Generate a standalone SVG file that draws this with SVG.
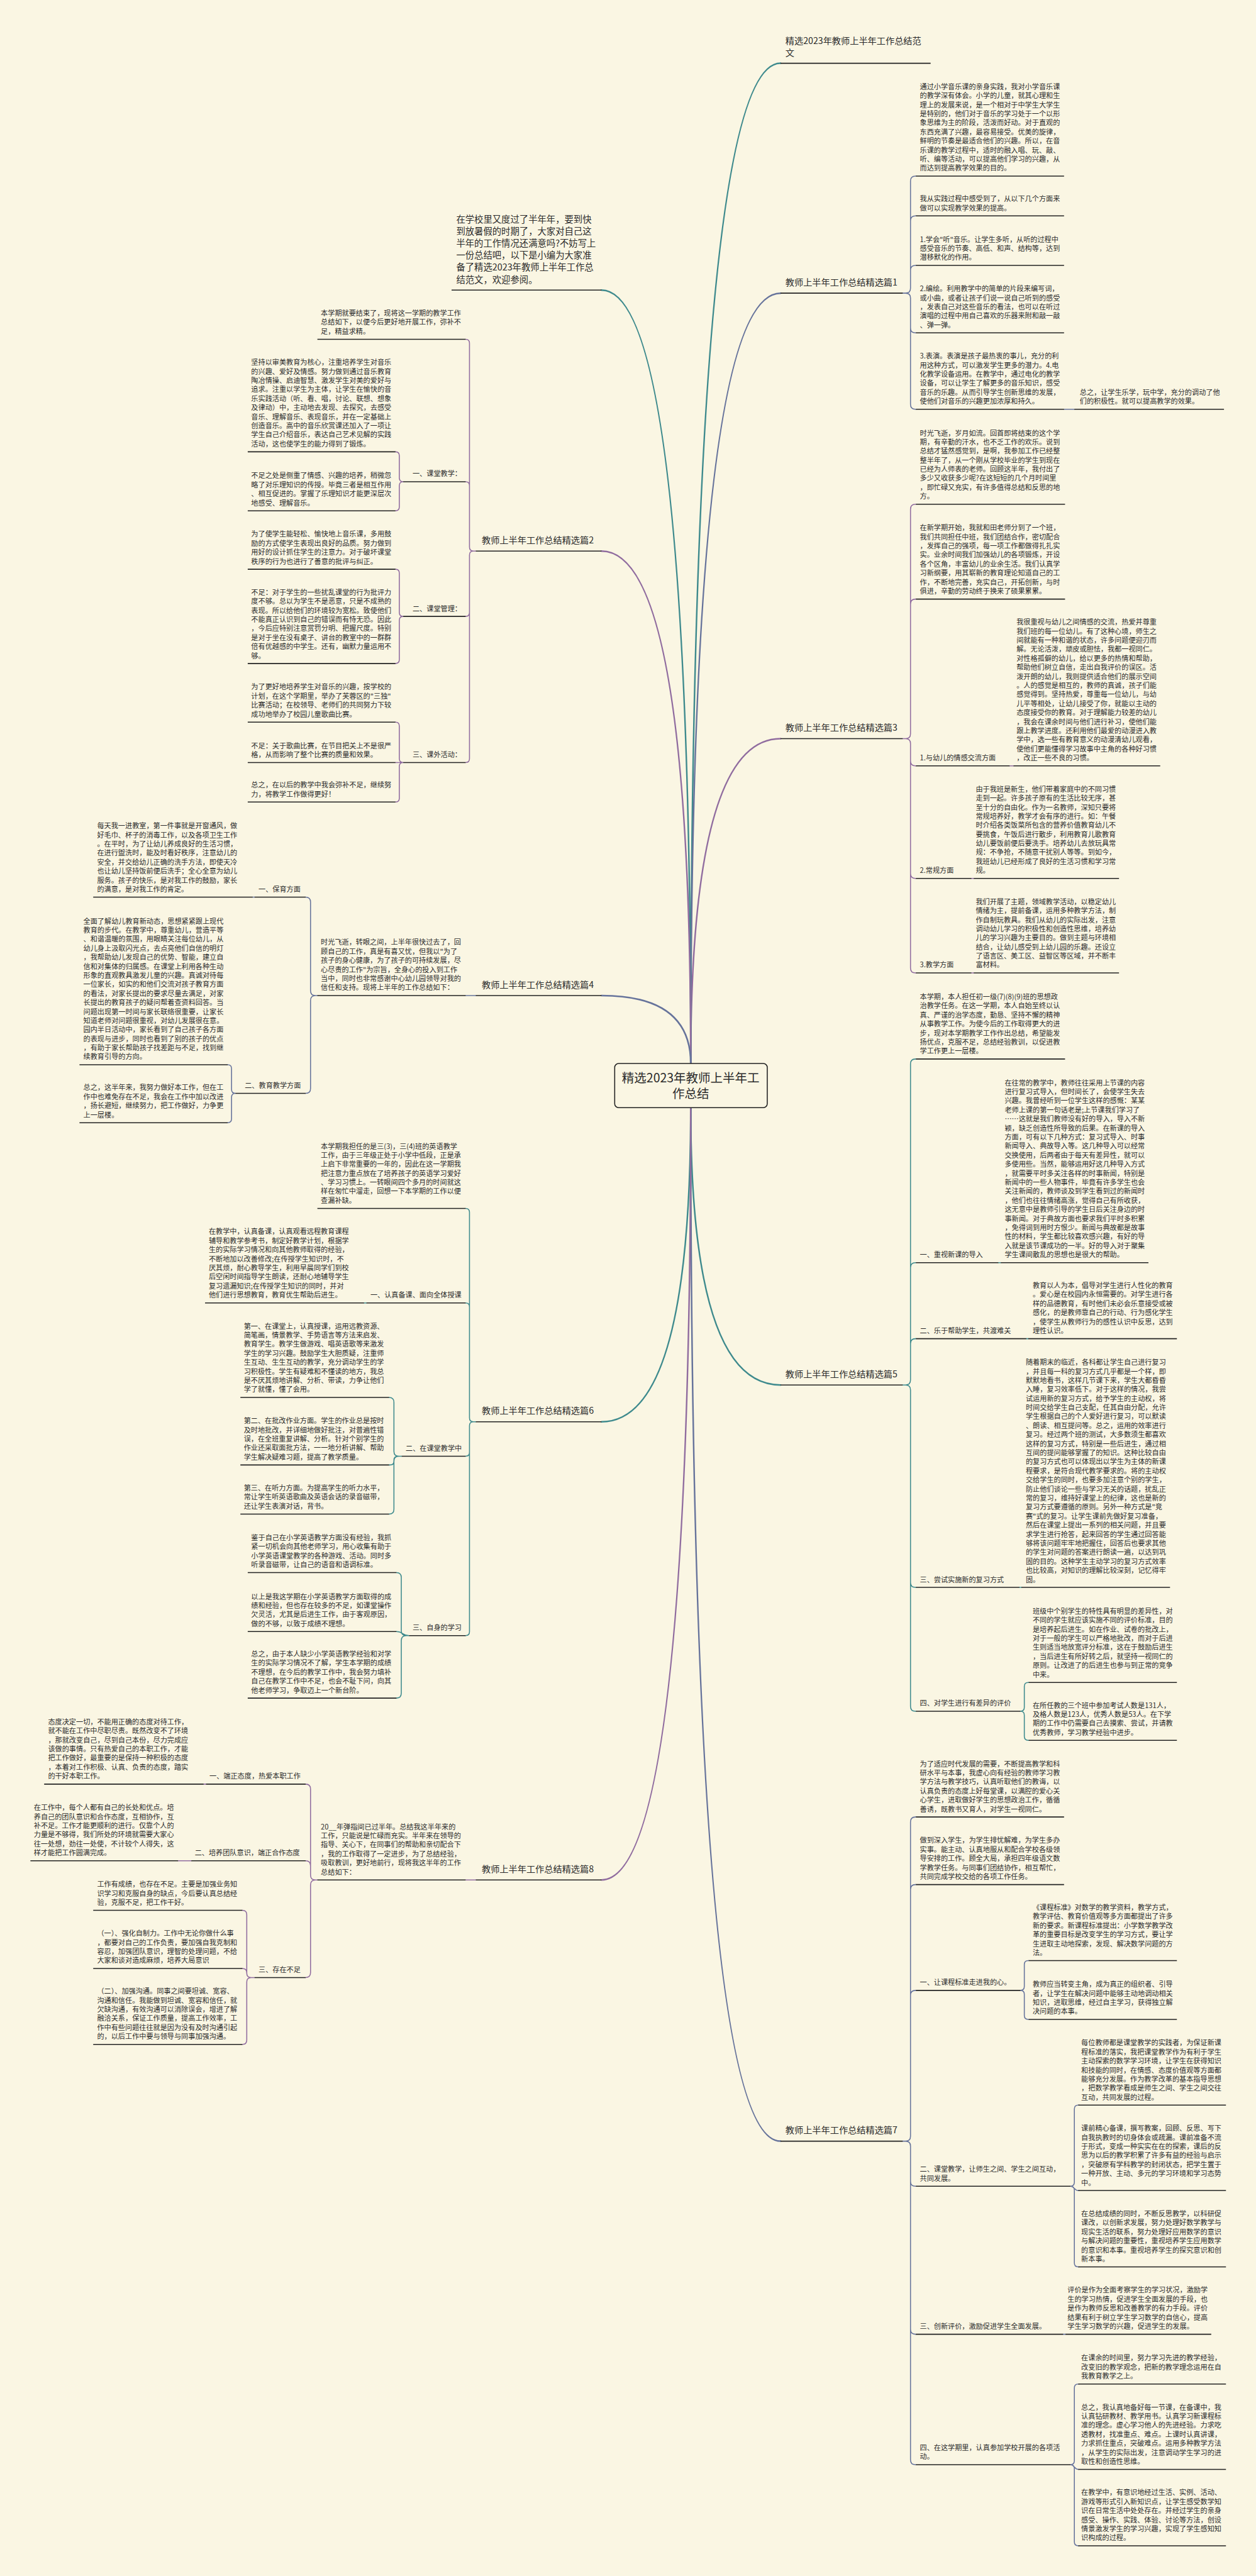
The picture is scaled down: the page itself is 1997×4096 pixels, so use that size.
<svg xmlns="http://www.w3.org/2000/svg" width="1997" height="4096" viewBox="0 0 1997 4096">
<style>
.t{font-family:"Noto Sans CJK SC","Noto Sans",sans-serif;font-size:14.3px;fill:#2b2b2b}
.b{font-size:18.2px}
.i{font-size:18.4px}
.c{font-size:25px;text-anchor:middle}
.u{stroke:#222;stroke-width:2;fill:none}
.k{fill:none;stroke-width:2;stroke-linecap:round}
.m{fill:none;stroke-width:3.2;stroke-linecap:round}
.teal{stroke:#3e8a8d}.slate{stroke:#66739b}.purple{stroke:#906c9f}
</style>
<rect width="1997" height="4096" fill="#faf6e3"/>
<g transform="scale(0.78)">
<g id="connectors">
<path class="m teal" d="M1408 2168Q1408 129 1591 129"/>
<path class="m slate" d="M1408 2168Q1408 597.6 1591 597.6"/>
<path class="m purple" d="M1408 2168Q1408 1505.7 1591 1505.7"/>
<path class="m teal" d="M1408 2168Q1408 591.3 1226 591.3"/>
<path class="m purple" d="M1408 2168Q1408 1123.5 1226 1123.5"/>
<path class="m slate" d="M1408 2168Q1408 2029.5 1226 2029.5"/>
<path class="m teal" d="M1408 2258Q1408 2823.3 1591 2823.3"/>
<path class="m slate" d="M1408 2258Q1408 4364.9 1591 4364.9"/>
<path class="m teal" d="M1408 2258Q1408 2898.4 1226 2898.4"/>
<path class="m purple" d="M1408 2258Q1408 3832.3 1226 3832.3"/>
<path class="k slate" d="M1840 597.6H1846Q1856 597.6 1856 587.6V369Q1856 359 1866 359H1867M1840 597.6H1846Q1856 597.6 1856 587.6V450Q1856 440 1866 440H1867M1840 597.6H1846Q1856 597.6 1856 587.6V551Q1856 541 1866 541H1867M1840 597.6H1846Q1856 597.6 1856 607.6V668.6Q1856 678.6 1866 678.6H1867M1840 597.6H1846Q1856 597.6 1856 607.6V824.2Q1856 834.2 1866 834.2H1867M2169 834.2H2190"/>
<path class="k purple" d="M1840 1505.7H1846Q1856 1505.7 1856 1495.7V1038Q1856 1028 1866 1028H1867M1840 1505.7H1846Q1856 1505.7 1856 1495.7V1231.3Q1856 1221.3 1866 1221.3H1867M1840 1505.7H1846Q1856 1505.7 1856 1515.7V1551.2Q1856 1561.2 1866 1561.2H1867M1840 1505.7H1846Q1856 1505.7 1856 1515.7V1780.8Q1856 1790.8 1866 1790.8H1867M1840 1505.7H1846Q1856 1505.7 1856 1515.7V1973.4Q1856 1983.4 1866 1983.4H1867M2058 1561.2H2066M1980 1790.8H1985M1980 1983.4H1985"/>
<path class="k teal" d="M1840 2823.3H1846Q1856 2823.3 1856 2813.3V2168.8Q1856 2158.8 1866 2158.8H1867M1840 2823.3H1846Q1856 2823.3 1856 2813.3V2584Q1856 2574 1866 2574H1867M1840 2823.3H1846Q1856 2823.3 1856 2813.3V2739Q1856 2729 1866 2729H1867M1840 2823.3H1846Q1856 2823.3 1856 2833.3V3226Q1856 3236 1866 3236H1867M1840 2823.3H1846Q1856 2823.3 1856 2833.3V3478.5Q1856 3488.5 1866 3488.5H1867M2035 2574H2040M2092 2729H2096M2078 3236H2082M2080 3488.5Q2088 3488.5 2088 3480.5V3437.8Q2088 3429.8 2096 3429.8H2097M2080 3488.5Q2088 3488.5 2088 3496.5V3539.8Q2088 3547.8 2096 3547.8H2097"/>
<path class="k slate" d="M1840 4364.9H1846Q1856 4364.9 1856 4354.9V3714Q1856 3704 1866 3704H1867M1840 4364.9H1846Q1856 4364.9 1856 4354.9V3851.8Q1856 3841.8 1866 3841.8H1867M1840 4364.9H1846Q1856 4364.9 1856 4354.9V4067.5Q1856 4057.5 1866 4057.5H1867M1840 4364.9H1846Q1856 4364.9 1856 4374.9V4446.7Q1856 4456.7 1866 4456.7H1867M1840 4364.9H1846Q1856 4364.9 1856 4374.9V4748.5Q1856 4758.5 1866 4758.5H1867M1840 4364.9H1846Q1856 4364.9 1856 4374.9V5014.4Q1856 5024.4 1866 5024.4H1867M2080 4057.5Q2088 4057.5 2088 4049.5V4004.8Q2088 3996.8 2096 3996.8H2097M2080 4057.5Q2088 4057.5 2088 4065.5V4108.6Q2088 4116.6 2096 4116.6H2097M2182 4456.7Q2190 4456.7 2190 4448.7V4299.4Q2190 4291.4 2198 4291.4H2199M2182 4456.7C2190 4456.7 2190 4465.5 2198 4465.5H2199M2182 4456.7Q2190 4456.7 2190 4464.7V4613.2Q2190 4621.2 2198 4621.2H2199M2167 4758.5H2172M2182 5024.4Q2190 5024.4 2190 5016.4V4868Q2190 4860 2198 4860H2199M2182 5024.4C2190 5024.4 2190 5034 2198 5034H2199M2182 5024.4Q2190 5024.4 2190 5032.4V5181.7Q2190 5189.7 2198 5189.7H2199"/>
<path class="k purple" d="M970 1123.5H965Q957 1123.5 957 1115.5V699.6Q957 691.6 949 691.6M970 1123.5H965Q957 1123.5 957 1115.5V990Q957 982 949 982M970 1123.5H965Q957 1123.5 957 1131.5V1248.6Q957 1256.6 949 1256.6M970 1123.5H965Q957 1123.5 957 1131.5V1546.5Q957 1554.5 949 1554.5M822 982Q814 982 814 974V929Q814 921 806 921M822 982Q814 982 814 990V1033.3Q814 1041.3 806 1041.3M822 1256.6Q814 1256.6 814 1248.6V1168.4Q814 1160.4 806 1160.4M822 1256.6Q814 1256.6 814 1264.6V1344.7Q814 1352.7 806 1352.7M822 1554.5Q814 1554.5 814 1546.5V1480Q814 1472 806 1472M822 1554.5H806M822 1554.5Q814 1554.5 814 1562.5V1627Q814 1635 806 1635"/>
<path class="k slate" d="M970 2029.5H949M647 2029.5H643Q633 2029.5 633 2019.5V1838.9Q633 1828.9 623 1828.9M647 2029.5H643Q633 2029.5 633 2039.5V2218.8Q633 2228.8 623 2228.8M519 1828.9H515M480 2228.8Q472 2228.8 472 2220.8V2178.6Q472 2170.6 464 2170.6M480 2228.8Q472 2228.8 472 2236.8V2280.7Q472 2288.7 464 2288.7"/>
<path class="k teal" d="M970 2898.4H965Q957 2898.4 957 2890.4V2471.4Q957 2463.4 949 2463.4M970 2898.4H965Q957 2898.4 957 2890.4V2664Q957 2656 949 2656M970 2898.4H965Q957 2898.4 957 2906.4V2960.5Q957 2968.5 949 2968.5M970 2898.4H965Q957 2898.4 957 2906.4V3326.3Q957 3334.3 949 3334.3M747 2656H742M819 2968.5H813Q803 2968.5 803 2958.5V2858.6Q803 2848.6 793 2848.6M819 2968.5H811Q803 2968.5 803 2976.5V2978.4Q803 2986.4 795 2986.4H793M819 2968.5H813Q803 2968.5 803 2978.5V3076.5Q803 3086.5 793 3086.5M834 3334.3H828Q818 3334.3 818 3324.3V3215.8Q818 3205.8 808 3205.8M834 3334.3C820 3334.3 822 3326 808 3326M834 3334.3H828Q818 3334.3 818 3344.3V3451.7Q818 3461.7 808 3461.7"/>
<path class="k purple" d="M970 3832.3H949M647 3832.3H643Q633 3832.3 633 3822.3V3647Q633 3637 623 3637M647 3832.3H643Q633 3832.3 633 3822.3V3803.3Q633 3793.3 623 3793.3M647 3832.3H643Q633 3832.3 633 3842.3V4021.3Q633 4031.3 623 4031.3M420 3637H415M390 3793.3H363M519 4031.3H512Q503 4031.3 503 4022.3V3903.3Q503 3894.3 494 3894.3M519 4031.3H512Q503 4031.3 503 4022.3V4021.7Q503 4012.7 494 4012.7M519 4031.3H512Q503 4031.3 503 4040.3V4158.7Q503 4167.7 494 4167.7"/>
</g>
<g id="center">
<rect x="1253" y="2168" width="311" height="90" rx="8" fill="#faf6e3" stroke="#222" stroke-width="2"/>
<text class="t c" x="1408" y="2206">精选2023年教师上半年工</text>
<text class="t c" x="1408" y="2239">作总结</text>
</g>
<g id="r0"><text class="t b" y="89.4"><tspan x="1601">精选2023年教师上半年工作总结范</tspan><tspan x="1601" dy="24.2">文</tspan></text><path class="u" d="M1591 129H1897"/></g>
<g id="r1"><text class="t b" x="1601" y="581.6">教师上半年工作总结精选篇1</text><path class="u" d="M1591 597.6H1840"/></g>
<g id="r1a"><text class="t" y="181.95"><tspan x="1875">通过小学音乐课的亲身实践，我对小学音乐课</tspan><tspan x="1875" dy="18.45">的教学深有体会。小学的儿童，就其心理和生</tspan><tspan x="1875" dy="18.45">理上的发展来说，是一个相对于中学生大学生</tspan><tspan x="1875" dy="18.45">是特别的，他们对于音乐的学习处于一个以形</tspan><tspan x="1875" dy="18.45">象思维为主的阶段，活泼而好动。对于直观的</tspan><tspan x="1875" dy="18.45">东西充满了兴趣，最容易接受。优美的旋律，</tspan><tspan x="1875" dy="18.45">鲜明的节奏是最适合他们的兴趣。所以，在音</tspan><tspan x="1875" dy="18.45">乐课的教学过程中，适时的融入唱、玩、敲、</tspan><tspan x="1875" dy="18.45">听、编等活动，可以提高他们学习的兴趣，从</tspan><tspan x="1875" dy="18.45">而达到提高教学效果的目的。</tspan></text><path class="u" d="M1867 359H2169"/></g>
<g id="r1b"><text class="t" y="410.55"><tspan x="1875">我从实践过程中感受到了，从以下几个方面来</tspan><tspan x="1875" dy="18.45">做可以实现教学效果的提高。</tspan></text><path class="u" d="M1867 440H2169"/></g>
<g id="r1c"><text class="t" y="493.1"><tspan x="1875">1.学会"听"音乐。让学生多听，从听的过程中</tspan><tspan x="1875" dy="18.45">感受音乐的节奏、高低、和声、结构等，达到</tspan><tspan x="1875" dy="18.45">潜移默化的作用。</tspan></text><path class="u" d="M1867 541H2169"/></g>
<g id="r1d"><text class="t" y="593.8"><tspan x="1875">2.编绘。利用教学中的简单的片段来编写词，</tspan><tspan x="1875" dy="18.45">或小曲，或者让孩子们说一说自己听到的感受</tspan><tspan x="1875" dy="18.45">，发表自己对这些音乐的看法，也可以在听过</tspan><tspan x="1875" dy="18.45">演唱的过程中用自己喜欢的乐器来附和敲一敲</tspan><tspan x="1875" dy="18.45">、弹一弹。</tspan></text><path class="u" d="M1867 678.6H2169"/></g>
<g id="r1e"><text class="t" y="730.95"><tspan x="1875">3.表演。表演是孩子最热衷的事儿，充分的利</tspan><tspan x="1875" dy="18.45">用这种方式，可以激发学生更多的潜力。4.电</tspan><tspan x="1875" dy="18.45">化教学设备运用。在教学中，通过电化的教学</tspan><tspan x="1875" dy="18.45">设备，可以让学生了解更多的音乐知识，感受</tspan><tspan x="1875" dy="18.45">音乐的乐趣。从而引导学生创新思维的发展，</tspan><tspan x="1875" dy="18.45">使他们对音乐的兴趣更加浓厚和持久。</tspan></text><path class="u" d="M1867 834.2H2169"/></g>
<g id="r1e1"><text class="t" y="804.75"><tspan x="2201">总之，让学生乐学，玩中学，充分的调动了他</tspan><tspan x="2201" dy="18.45">们的积极性。就可以提高教学的效果。</tspan></text><path class="u" d="M2190 834.2H2495"/></g>
<g id="r3"><text class="t b" x="1601" y="1489.7">教师上半年工作总结精选篇3</text><path class="u" d="M1591 1505.7H1840"/></g>
<g id="r3a"><text class="t" y="887.85"><tspan x="1875">时光飞逝，岁月如流。回首即将结束的这个学</tspan><tspan x="1875" dy="18.45">期，有辛勤的汗水，也不乏工作的欢乐。说到</tspan><tspan x="1875" dy="18.45">总结才猛然感觉到，是啊，我参加工作已经整</tspan><tspan x="1875" dy="18.45">整半年了，从一个刚从学校毕业的学生到现在</tspan><tspan x="1875" dy="18.45">已经为人师表的老师。回顾这半年，我付出了</tspan><tspan x="1875" dy="18.45">多少又收获多少呢?在这短短的几个月时间里</tspan><tspan x="1875" dy="18.45">，即忙碌又充实，有许多值得总结和反思的地</tspan><tspan x="1875" dy="18.45">方。</tspan></text><path class="u" d="M1867 1028H2171"/></g>
<g id="r3b"><text class="t" y="1081.15"><tspan x="1875">在新学期开始，我就和田老师分到了一个班，</tspan><tspan x="1875" dy="18.45">我们共同担任中班，我们团结合作，密切配合</tspan><tspan x="1875" dy="18.45">，发挥自己的强项，每一项工作都做得扎扎实</tspan><tspan x="1875" dy="18.45">实。业余时间我们加强幼儿的各项锻炼，开设</tspan><tspan x="1875" dy="18.45">各个区角，丰富幼儿的业余生活。我们认真学</tspan><tspan x="1875" dy="18.45">习新纲要，用其崭新的教育理论知道自己的工</tspan><tspan x="1875" dy="18.45">作，不断地完善，充实自己，开拓创新，与时</tspan><tspan x="1875" dy="18.45">俱进，辛勤的劳动终于换来了硕果累累。</tspan></text><path class="u" d="M1867 1221.3H2171"/></g>
<g id="r3c"><text class="t" x="1875" y="1550.2">1.与幼儿的情感交流方面</text><path class="u" d="M1867 1561.2H2058"/></g>
<g id="r3c1"><text class="t" y="1273.45"><tspan x="2072">我很重视与幼儿之间情感的交流，热爱并尊重</tspan><tspan x="2072" dy="18.45">我们班的每一位幼儿。有了这种心境，师生之</tspan><tspan x="2072" dy="18.45">间就能有一种和谐的状态，许多问题便迎刃而</tspan><tspan x="2072" dy="18.45">解。无论活泼，顽皮或胆怯，我都一视同仁。</tspan><tspan x="2072" dy="18.45">对性格孤僻的幼儿，给以更多的热情和帮助，</tspan><tspan x="2072" dy="18.45">帮助他们树立自信，走出自我评价的误区。活</tspan><tspan x="2072" dy="18.45">泼开朗的幼儿，我则提供适合他们的展示空间</tspan><tspan x="2072" dy="18.45">。人的感觉是相互的，教师的真诚，孩子们能</tspan><tspan x="2072" dy="18.45">感觉得到。坚持热爱，尊重每一位幼儿，与幼</tspan><tspan x="2072" dy="18.45">儿平等相处，让幼儿接受了你，就能以主动的</tspan><tspan x="2072" dy="18.45">态度接受你的教育。对于理解能力较差的幼儿</tspan><tspan x="2072" dy="18.45">，我会在课余时间与他们进行补习，使他们能</tspan><tspan x="2072" dy="18.45">跟上教学进度。还利用他们最爱的动漫进入教</tspan><tspan x="2072" dy="18.45">学中，选一些有教育意义的动漫清幼儿观看，</tspan><tspan x="2072" dy="18.45">使他们更能懂得学习故事中主角的各种好习惯</tspan><tspan x="2072" dy="18.45">，改正一些不良的习惯。</tspan></text><path class="u" d="M2066 1561.2H2365"/></g>
<g id="r3d"><text class="t" x="1875" y="1779.8">2.常规方面</text><path class="u" d="M1867 1790.8H1980"/></g>
<g id="r3d1"><text class="t" y="1613.75"><tspan x="1989">由于我班是新生，他们带着家庭中的不同习惯</tspan><tspan x="1989" dy="18.45">走到一起。许多孩子原有的生活比较无序，甚</tspan><tspan x="1989" dy="18.45">至十分的自由化。作为一名教师，深知只要将</tspan><tspan x="1989" dy="18.45">常规培养好，教学才会有序的进行。如：午餐</tspan><tspan x="1989" dy="18.45">时介绍各类饭菜所包含的营养价值教育幼儿不</tspan><tspan x="1989" dy="18.45">要挑食，午饭后进行散步，利用教育儿歌教育</tspan><tspan x="1989" dy="18.45">幼儿要饭前便后要洗手。培养幼儿去放玩具常</tspan><tspan x="1989" dy="18.45">规：不争抢，不随意干扰别人等等。到如今，</tspan><tspan x="1989" dy="18.45">我班幼儿已经形成了良好的生活习惯和学习常</tspan><tspan x="1989" dy="18.45">规。</tspan></text><path class="u" d="M1985 1790.8H2281"/></g>
<g id="r3e"><text class="t" x="1875" y="1972.4">3.教学方面</text><path class="u" d="M1867 1983.4H1980"/></g>
<g id="r3e1"><text class="t" y="1843.25"><tspan x="1989">我们开展了主题，领域教学活动，以稳定幼儿</tspan><tspan x="1989" dy="18.45">情绪为主，提前备课，运用多种教学方法，制</tspan><tspan x="1989" dy="18.45">作自制玩教具。我们从幼儿的实际出发，注意</tspan><tspan x="1989" dy="18.45">调动幼儿学习的积极性和创造性思维，培养幼</tspan><tspan x="1989" dy="18.45">儿的学习兴趣为主要目的。做到主题与环境相</tspan><tspan x="1989" dy="18.45">结合，让幼儿感受到上幼儿园的乐趣。还设立</tspan><tspan x="1989" dy="18.45">了语言区、美工区、益智区等区域，并不断丰</tspan><tspan x="1989" dy="18.45">富材料。</tspan></text><path class="u" d="M1985 1983.4H2281"/></g>
<g id="r5"><text class="t b" x="1601" y="2807.3">教师上半年工作总结精选篇5</text><path class="u" d="M1591 2823.3H1840"/></g>
<g id="r5a"><text class="t" y="2037.1"><tspan x="1875">本学期，本人担任初一级(7)(8)(9)班的思想政</tspan><tspan x="1875" dy="18.45">治教学任务。在这一学期，本人自始至终以认</tspan><tspan x="1875" dy="18.45">真、严谨的治学态度，勤恳、坚持不懈的精神</tspan><tspan x="1875" dy="18.45">从事教学工作。为使今后的工作取得更大的进</tspan><tspan x="1875" dy="18.45">步，现对本学期教学工作作出总结，希望能发</tspan><tspan x="1875" dy="18.45">扬优点，克服不足，总结经验教训，以促进教</tspan><tspan x="1875" dy="18.45">学工作更上一层楼。</tspan></text><path class="u" d="M1867 2158.8H2171"/></g>
<g id="r5b"><text class="t" x="1875" y="2563">一、重视新课的导入</text><path class="u" d="M1867 2574H2035"/></g>
<g id="r5b1"><text class="t" y="2212.45"><tspan x="2048">在往常的教学中，教师往往采用上节课的内容</tspan><tspan x="2048" dy="18.45">进行复习式导入，但时间长了，会使学生失去</tspan><tspan x="2048" dy="18.45">兴趣。我曾经听到一位学生这样的感慨：某某</tspan><tspan x="2048" dy="18.45">老师上课的第一句话老是;上节课我们学习了</tspan><tspan x="2048" dy="18.45">……这就是我们教师没有好的导入，导入不新</tspan><tspan x="2048" dy="18.45">颖，缺乏创造性所导致的后果。在新课的导入</tspan><tspan x="2048" dy="18.45">方面，可有以下几种方式：复习式导入、时事</tspan><tspan x="2048" dy="18.45">新闻导入、典故导入等。这几种导入可以经常</tspan><tspan x="2048" dy="18.45">交换使用，后两者由于每天有差异性，就可以</tspan><tspan x="2048" dy="18.45">多使用些。当然，能够运用好这几种导入方式</tspan><tspan x="2048" dy="18.45">，就需要平时多关注各样的时事新闻，特别是</tspan><tspan x="2048" dy="18.45">新闻中的一些人物事件，毕竟有许多学生也会</tspan><tspan x="2048" dy="18.45">关注新闻的，教师谈及到学生看到过的新闻时</tspan><tspan x="2048" dy="18.45">，他们也往往情绪高涨，觉得自己有所收获，</tspan><tspan x="2048" dy="18.45">这无意中是教师引导的学生日后关注身边的时</tspan><tspan x="2048" dy="18.45">事新闻。对于典故方面也要求我们平时多积累</tspan><tspan x="2048" dy="18.45">，免得词到用时方恨少。新闻与典故都是故事</tspan><tspan x="2048" dy="18.45">性的材料，学生都比较喜欢感兴趣，有好的导</tspan><tspan x="2048" dy="18.45">入就是该节课成功的一半。好的导入对于聚集</tspan><tspan x="2048" dy="18.45">学生课间散乱的思想也是很大的帮助。</tspan></text><path class="u" d="M2040 2574H2341"/></g>
<g id="r5c"><text class="t" x="1875" y="2718">二、乐于帮助学生，共渡难关</text><path class="u" d="M1867 2729H2092"/></g>
<g id="r5c1"><text class="t" y="2625.75"><tspan x="2105">教育以人为本，倡导对学生进行人性化的教育</tspan><tspan x="2105" dy="18.45">。爱心是在校园内永恒需要的。对学生进行各</tspan><tspan x="2105" dy="18.45">样的品德教育，有时他们未必会乐意接受或被</tspan><tspan x="2105" dy="18.45">感化，的是教师靠自己的行动、行为感化学生</tspan><tspan x="2105" dy="18.45">，使学生从教师行为的感性认识中反思，达到</tspan><tspan x="2105" dy="18.45">理性认识。</tspan></text><path class="u" d="M2096 2729H2399"/></g>
<g id="r5d"><text class="t" x="1875" y="3225">三、尝试实施新的复习方式</text><path class="u" d="M1867 3236H2078"/></g>
<g id="r5d1"><text class="t" y="2782.2"><tspan x="2091">随着期末的临近，各科都让学生自己进行复习</tspan><tspan x="2091" dy="18.45">，并且每一科的复习方式几乎都是一个样，即</tspan><tspan x="2091" dy="18.45">默默地看书，这样几节课下来，学生大都昏昏</tspan><tspan x="2091" dy="18.45">入睡，复习效率低下。对于这样的情况，我尝</tspan><tspan x="2091" dy="18.45">试运用新的复习方式，给予学生的主动权，将</tspan><tspan x="2091" dy="18.45">时间交给学生自己支配，任其自由分配，允许</tspan><tspan x="2091" dy="18.45">学生根据自己的个人爱好进行复习，可以默读</tspan><tspan x="2091" dy="18.45">、朗读、相互提问等。总之，运用的效率进行</tspan><tspan x="2091" dy="18.45">复习。经过两个班的测试，大多数须生都喜欢</tspan><tspan x="2091" dy="18.45">这样的复习方式，特别是一些后进生，通过相</tspan><tspan x="2091" dy="18.45">互间的提问能够掌握了的知识。这种比较自由</tspan><tspan x="2091" dy="18.45">的复习方式也可以体现出以学生为主体的新课</tspan><tspan x="2091" dy="18.45">程要求，是符合现代教学要求的。将的主动权</tspan><tspan x="2091" dy="18.45">交给学生的同时，也要多加注意个别的学生，</tspan><tspan x="2091" dy="18.45">防止他们谈论一些与学习无关的话题，扰乱正</tspan><tspan x="2091" dy="18.45">常的复习，维持好课堂上的纪律，这也是新的</tspan><tspan x="2091" dy="18.45">复习方式要遵循的原则。另外一种方式是"竞</tspan><tspan x="2091" dy="18.45">赛"式的复习。让学生课前先做好复习准备，</tspan><tspan x="2091" dy="18.45">然后在课堂上提出一系列的相关问题，并且要</tspan><tspan x="2091" dy="18.45">求学生进行抢答，起来回答的学生通过回答能</tspan><tspan x="2091" dy="18.45">够将该问题牢牢地把握住，回答后也要求其他</tspan><tspan x="2091" dy="18.45">的学生对问题的答案进行朗读一遍，以达到巩</tspan><tspan x="2091" dy="18.45">固的目的。这种学生主动学习的复习方式效率</tspan><tspan x="2091" dy="18.45">也比较高，对知识的理解比较深刻，记忆得牢</tspan><tspan x="2091" dy="18.45">固。</tspan></text><path class="u" d="M2082 3236H2385"/></g>
<g id="r5e"><text class="t" x="1875" y="3477.5">四、对学生进行有差异的评价</text><path class="u" d="M1867 3488.5H2080"/></g>
<g id="r5e1"><text class="t" y="3289.65"><tspan x="2105">班级中个别学生的特性具有明显的差异性，对</tspan><tspan x="2105" dy="18.45">不同的学生就应该实施不同的评价标准，目的</tspan><tspan x="2105" dy="18.45">是培养起后进生。如在作业、试卷的批改上，</tspan><tspan x="2105" dy="18.45">对于一般的学生可以严格地批改，而对于后进</tspan><tspan x="2105" dy="18.45">生则适当地放宽评分标准，这在于鼓励后进生</tspan><tspan x="2105" dy="18.45">，当后进生有所好转之后，就坚持一视同仁的</tspan><tspan x="2105" dy="18.45">原则。让改进了的后进生也参与到正常的竞争</tspan><tspan x="2105" dy="18.45">中来。</tspan></text><path class="u" d="M2097 3429.8H2399"/></g>
<g id="r5e2"><text class="t" y="3481.45"><tspan x="2105">在所任教的三个班中参加考试人数是131人，</tspan><tspan x="2105" dy="18.45">及格人数是123人，优秀人数是53人。在下学</tspan><tspan x="2105" dy="18.45">期的工作中仍需要自己去摸索、尝试，并请教</tspan><tspan x="2105" dy="18.45">优秀教师，学习教学经验中进步。</tspan></text><path class="u" d="M2097 3547.8H2399"/></g>
<g id="r7"><text class="t b" x="1601" y="4348.9">教师上半年工作总结精选篇7</text><path class="u" d="M1591 4364.9H1840"/></g>
<g id="r7p"><text class="t" y="3600.75"><tspan x="1875">为了适应时代发展的需要，不断提高教学和科</tspan><tspan x="1875" dy="18.45">研水平与本事，我虚心向有经验的教师学习教</tspan><tspan x="1875" dy="18.45">学方法与教学技巧，认真听取他们的教诲，以</tspan><tspan x="1875" dy="18.45">认真负责的态度上好每堂课，以满腔的爱心关</tspan><tspan x="1875" dy="18.45">心学生，进取做好学生的思想政治工作，循循</tspan><tspan x="1875" dy="18.45">善诱，既教书又育人，对学生一视同仁。</tspan></text><path class="u" d="M1867 3704H2169"/></g>
<g id="r7q"><text class="t" y="3757"><tspan x="1875">做到深入学生，为学生排忧解难，为学生多办</tspan><tspan x="1875" dy="18.45">实事。能主动、认真地服从和配合学校各级领</tspan><tspan x="1875" dy="18.45">导安排的工作。顾全大局，承担四年级语文数</tspan><tspan x="1875" dy="18.45">学教学任务。与同事们团结协作，相互帮忙，</tspan><tspan x="1875" dy="18.45">共同完成学校交给的各项工作任务。</tspan></text><path class="u" d="M1867 3841.8H2169"/></g>
<g id="r7a"><text class="t" x="1875" y="4046.5">一、让课程标准走进我的心。</text><path class="u" d="M1867 4057.5H2080"/></g>
<g id="r7a1"><text class="t" y="3893.55"><tspan x="2105">《课程标准》对数学的教学资料，教学方式，</tspan><tspan x="2105" dy="18.45">教学评估、教育价值观等多方面都提出了许多</tspan><tspan x="2105" dy="18.45">新的要求。新课程标准提出：小学数学教学改</tspan><tspan x="2105" dy="18.45">革的重要目标是改变学生的学习方式，要让学</tspan><tspan x="2105" dy="18.45">生进取主动地探索，发现、解决数学问题的方</tspan><tspan x="2105" dy="18.45">法。</tspan></text><path class="u" d="M2097 3996.8H2399"/></g>
<g id="r7a2"><text class="t" y="4050.25"><tspan x="2105">教师应当转变主角，成为真正的组织者、引导</tspan><tspan x="2105" dy="18.45">者，让学生在解决问题中能够主动地调动相关</tspan><tspan x="2105" dy="18.45">知识，进取思维，经过自主学习，获得独立解</tspan><tspan x="2105" dy="18.45">决问题的本事。</tspan></text><path class="u" d="M2097 4116.6H2399"/></g>
<g id="r7b"><text class="t" y="4427.25"><tspan x="1875">二、课堂教学，让师生之间、学生之间互动，</tspan><tspan x="1875" dy="18.45">共同发展。</tspan></text><path class="u" d="M1867 4456.7H2182"/></g>
<g id="r7b1"><text class="t" y="4169.7"><tspan x="2204">每位教师都是课堂教学的实践者，为保证新课</tspan><tspan x="2204" dy="18.45">程标准的落实，我把课堂教学作为有利于学生</tspan><tspan x="2204" dy="18.45">主动探索的数学学习环境，让学生在获得知识</tspan><tspan x="2204" dy="18.45">和技能的同时，在情感、态度价值观等方面都</tspan><tspan x="2204" dy="18.45">能够充分发展。作为教学改革的基本指导思想</tspan><tspan x="2204" dy="18.45">，把数学教学看成是师生之间、学生之间交往</tspan><tspan x="2204" dy="18.45">互动，共同发展的过程。</tspan></text><path class="u" d="M2198 4291.4H2499"/></g>
<g id="r7b2"><text class="t" y="4343.8"><tspan x="2204">课前精心备课，撰写教案，回顾、反思、写下</tspan><tspan x="2204" dy="18.45">自我执教时的切身体会或疏漏。课前准备不流</tspan><tspan x="2204" dy="18.45">于形式，变成一种实实在在的探索，课后的反</tspan><tspan x="2204" dy="18.45">思为以后的教学积累了许多有益的经验与启示</tspan><tspan x="2204" dy="18.45">，突破原有学科教学的封闭状态，把学生置于</tspan><tspan x="2204" dy="18.45">一种开放、主动、多元的学习环境和学习态势</tspan><tspan x="2204" dy="18.45">中。</tspan></text><path class="u" d="M2198 4465.5H2499"/></g>
<g id="r7b3"><text class="t" y="4517.95"><tspan x="2204">在总结成绩的同时，不断反思教学，以科研促</tspan><tspan x="2204" dy="18.45">课改，以创新求发展，努力处理好数学教学与</tspan><tspan x="2204" dy="18.45">现实生活的联系，努力处理好应用数学的意识</tspan><tspan x="2204" dy="18.45">与解决问题的重要性，重视培养学生应用数学</tspan><tspan x="2204" dy="18.45">的意识和本事。重视培养学生的探究意识和创</tspan><tspan x="2204" dy="18.45">新本事。</tspan></text><path class="u" d="M2198 4621.2H2499"/></g>
<g id="r7c"><text class="t" x="1875" y="4747.5">三、创新评价，激励促进学生全面发展。</text><path class="u" d="M1867 4758.5H2167"/></g>
<g id="r7c1"><text class="t" y="4673.7"><tspan x="2176">评价是作为全面考察学生的学习状况，激励学</tspan><tspan x="2176" dy="18.45">生的学习热情，促进学生全面发展的手段，也</tspan><tspan x="2176" dy="18.45">是作为教师反思和改善教学的有力手段。评价</tspan><tspan x="2176" dy="18.45">结果有利于树立学生学习数学的自信心，提高</tspan><tspan x="2176" dy="18.45">学生学习数学的兴趣，促进学生的发展。</tspan></text><path class="u" d="M2172 4758.5H2469"/></g>
<g id="r7d"><text class="t" y="4994.95"><tspan x="1875">四、在这学期里，认真参加学校开展的各项活</tspan><tspan x="1875" dy="18.45">动。</tspan></text><path class="u" d="M1867 5024.4H2182"/></g>
<g id="r7d1"><text class="t" y="4812.1"><tspan x="2204">在课余的时间里，努力学习先进的教学经验，</tspan><tspan x="2204" dy="18.45">改变旧的教学观念，把新的教学理念运用在自</tspan><tspan x="2204" dy="18.45">我教育教学之上。</tspan></text><path class="u" d="M2198 4860H2499"/></g>
<g id="r7d2"><text class="t" y="4912.3"><tspan x="2204">总之，我认真地备好每一节课，在备课中，我</tspan><tspan x="2204" dy="18.45">认真钻研教材、教学用书。认真学习新课程标</tspan><tspan x="2204" dy="18.45">准的理念。虚心学习他人的先进经验。力求吃</tspan><tspan x="2204" dy="18.45">透教材，找准重点、难点。上课时认真讲课，</tspan><tspan x="2204" dy="18.45">力求抓住重点，突破难点。运用多种教学方法</tspan><tspan x="2204" dy="18.45">，从学生的实际出发，注意调动学生学习的进</tspan><tspan x="2204" dy="18.45">取性和创造性思维。</tspan></text><path class="u" d="M2198 5034H2499"/></g>
<g id="r7d3"><text class="t" y="5086.45"><tspan x="2204">在教学中，有意识地经过生活、实例、活动、</tspan><tspan x="2204" dy="18.45">游戏等形式引入新知识点，让学生感受数学知</tspan><tspan x="2204" dy="18.45">识在日常生活中处处存在。并经过学生的亲身</tspan><tspan x="2204" dy="18.45">感受、操作、实践、体验、讨论等方法，创设</tspan><tspan x="2204" dy="18.45">情景激发学生的学习兴趣，实现了学生感知知</tspan><tspan x="2204" dy="18.45">识构成的过程。</tspan></text><path class="u" d="M2198 5189.7H2499"/></g>
<g id="l0"><text class="t i" y="453.4"><tspan x="930">在学校里又度过了半年年，要到快</tspan><tspan x="930" dy="24.6">到放暑假的时期了，大家对自己这</tspan><tspan x="930" dy="24.6">半年的工作情况还满意吗?不妨写上</tspan><tspan x="930" dy="24.6">一份总结吧，以下是小编为大家准</tspan><tspan x="930" dy="24.6">备了精选2023年教师上半年工作总</tspan><tspan x="930" dy="24.6">结范文，欢迎参阅。</tspan></text><path class="u" d="M920.5 591.3H1226"/></g>
<g id="l2"><text class="t b" x="982" y="1107.5">教师上半年工作总结精选篇2</text><path class="u" d="M970 1123.5H1226"/></g>
<g id="l2a"><text class="t" y="643.7"><tspan x="654">本学期就要结束了，现将这一学期的教学工作</tspan><tspan x="654" dy="18.45">总结如下，以便今后更好地开展工作，弥补不</tspan><tspan x="654" dy="18.45">足，精益求精。</tspan></text><path class="u" d="M647 691.6H949"/></g>
<g id="l2b"><text class="t" x="841" y="971">一、课堂教学：</text><path class="u" d="M822 982H949"/></g>
<g id="l2b1"><text class="t" y="743.95"><tspan x="512">坚持以审美教育为核心，注重培养学生对音乐</tspan><tspan x="512" dy="18.45">的兴趣、爱好及情感。努力做到通过音乐教育</tspan><tspan x="512" dy="18.45">陶冶情操、启迪智慧、激发学生对美的爱好与</tspan><tspan x="512" dy="18.45">追求。注重以学生为主体，让学生在愉快的音</tspan><tspan x="512" dy="18.45">乐实践活动（听、看、唱，讨论、联想、想象</tspan><tspan x="512" dy="18.45">及律动）中，主动地去发现、去探究，去感受</tspan><tspan x="512" dy="18.45">音乐、理解音乐、表现音乐，并在一定基础上</tspan><tspan x="512" dy="18.45">创造音乐。高中的音乐欣赏课还加入了一项让</tspan><tspan x="512" dy="18.45">学生自己介绍音乐，表达自己艺术见解的实践</tspan><tspan x="512" dy="18.45">活动，这也使学生的能力得到了锻炼。</tspan></text><path class="u" d="M505 921H806"/></g>
<g id="l2b2"><text class="t" y="974.95"><tspan x="512">不足之处是侧重了情感、兴趣的培养，稍微忽</tspan><tspan x="512" dy="18.45">略了对乐理知识的传授。毕竟三者是相互作用</tspan><tspan x="512" dy="18.45">、相互促进的。掌握了乐理知识才能更深层次</tspan><tspan x="512" dy="18.45">地感受、理解音乐。</tspan></text><path class="u" d="M505 1041.3H806"/></g>
<g id="l2c"><text class="t" x="841" y="1245.6">二、课堂管理：</text><path class="u" d="M822 1256.6H949"/></g>
<g id="l2c1"><text class="t" y="1094.05"><tspan x="512">为了使学生能轻松、愉快地上音乐课，多用鼓</tspan><tspan x="512" dy="18.45">励的方式使学生表现出良好的品质。努力做到</tspan><tspan x="512" dy="18.45">用好的设计抓住学生的注意力。对于破坏课堂</tspan><tspan x="512" dy="18.45">秩序的行为也进行了善意的批评与纠正。</tspan></text><path class="u" d="M505 1160.4H806"/></g>
<g id="l2c2"><text class="t" y="1212.55"><tspan x="512">不足：对于学生的一些扰乱课堂的行为批评力</tspan><tspan x="512" dy="18.45">度不够。总以为学生不是恶意，只是不成熟的</tspan><tspan x="512" dy="18.45">表现。所以给他们的环境较为宽松。致使他们</tspan><tspan x="512" dy="18.45">不能真正认识到自己的错误而有恃无恐。因此</tspan><tspan x="512" dy="18.45">，今后应特别注意赏罚分明、把握尺度。特别</tspan><tspan x="512" dy="18.45">是对于坐在没有桌子、讲台的教室中的一群群</tspan><tspan x="512" dy="18.45">倍有优越感的中学生。还有，幽默力量运用不</tspan><tspan x="512" dy="18.45">够。</tspan></text><path class="u" d="M505 1352.7H806"/></g>
<g id="l2d"><text class="t" x="841" y="1543.5">三、课外活动：</text><path class="u" d="M822 1554.5H949"/></g>
<g id="l2d1"><text class="t" y="1405.65"><tspan x="512">为了更好地培养学生对音乐的兴趣，按学校的</tspan><tspan x="512" dy="18.45">计划，在这个学期里，举办了芙蓉区的"三独"</tspan><tspan x="512" dy="18.45">比赛活动；在校领导、老师们的共同努力下较</tspan><tspan x="512" dy="18.45">成功地举办了校园儿童歌曲比赛。</tspan></text><path class="u" d="M505 1472H806"/></g>
<g id="l2d2"><text class="t" y="1525.05"><tspan x="512">不足：关于歌曲比赛，在节目把关上不是很严</tspan><tspan x="512" dy="18.45">格，从而影响了整个比赛的质量和效果。</tspan></text><path class="u" d="M505 1554.5H806"/></g>
<g id="l2d3"><text class="t" y="1605.55"><tspan x="512">总之，在以后的教学中我会弥补不足，继续努</tspan><tspan x="512" dy="18.45">力，将教学工作做得更好！</tspan></text><path class="u" d="M505 1635H806"/></g>
<g id="l4"><text class="t b" x="982" y="2013.5">教师上半年工作总结精选篇4</text><path class="u" d="M970 2029.5H1226"/></g>
<g id="l4i"><text class="t" y="1926.25"><tspan x="654">时光飞逝，转眼之间，上半年很快过去了，回</tspan><tspan x="654" dy="18.45">顾自己的工作，真是有喜又忧，但我以"为了</tspan><tspan x="654" dy="18.45">孩子的身心健康，为了孩子的可持续发展，尽</tspan><tspan x="654" dy="18.45">心尽责的工作"为宗旨，全身心的投入到工作</tspan><tspan x="654" dy="18.45">当中，同时也非常感谢中心幼儿园领导对我的</tspan><tspan x="654" dy="18.45">信任和支持。现将上半年的工作总结如下：</tspan></text><path class="u" d="M647 2029.5H949"/></g>
<g id="l4a"><text class="t" x="527" y="1817.9">一、保育方面</text><path class="u" d="M519 1828.9H623"/></g>
<g id="l4a1"><text class="t" y="1688.75"><tspan x="198">每天我一进教室，第一件事就是开窗通风，做</tspan><tspan x="198" dy="18.45">好毛巾、杯子的消毒工作，以及各项卫生工作</tspan><tspan x="198" dy="18.45">。在平时，为了让幼儿养成良好的生活习惯，</tspan><tspan x="198" dy="18.45">在进行盥洗时，能及时看好秩序，注意幼儿的</tspan><tspan x="198" dy="18.45">安全，并交给幼儿正确的洗手方法，即使天冷</tspan><tspan x="198" dy="18.45">也让幼儿坚持饭前便后洗手；全心全意为幼儿</tspan><tspan x="198" dy="18.45">服务。孩子的快乐，是对我工作的鼓励，家长</tspan><tspan x="198" dy="18.45">的满意，是对我工作的肯定。</tspan></text><path class="u" d="M190 1828.9H515"/></g>
<g id="l4b"><text class="t" x="499" y="2217.8">二、教育教学方面</text><path class="u" d="M480 2228.8H623"/></g>
<g id="l4b1"><text class="t" y="1882.85"><tspan x="170">全面了解幼儿教育新动态，思想紧紧跟上现代</tspan><tspan x="170" dy="18.45">教育的步代。在教学中，尊重幼儿，营造平等</tspan><tspan x="170" dy="18.45">、和谐温暖的氛围，用眼睛关注每位幼儿，从</tspan><tspan x="170" dy="18.45">幼儿身上汲取闪光点，去点亮他们自信的明灯</tspan><tspan x="170" dy="18.45">，我帮助幼儿发现自己的优势、智能，建立自</tspan><tspan x="170" dy="18.45">信和对集体的归属感。在课堂上利用各种生动</tspan><tspan x="170" dy="18.45">形象的直观教具激发儿童的兴趣。真诚对待每</tspan><tspan x="170" dy="18.45">一位家长，如实的和他们交流对孩子教育方面</tspan><tspan x="170" dy="18.45">的看法，对家长提出的要求尽量去满足，对家</tspan><tspan x="170" dy="18.45">长提出的教育孩子的疑问帮着查资料回答。当</tspan><tspan x="170" dy="18.45">问题出现第一时间与家长联络很重要，让家长</tspan><tspan x="170" dy="18.45">知道老师对问题很重视，对幼儿发展很在意。</tspan><tspan x="170" dy="18.45">园内半日活动中，家长看到了自己孩子各方面</tspan><tspan x="170" dy="18.45">的表现与进步，同时也看到了别的孩子的优点</tspan><tspan x="170" dy="18.45">，有助于家长帮助孩子找差距与不足，找到继</tspan><tspan x="170" dy="18.45">续教育引导的方向。</tspan></text><path class="u" d="M162 2170.6H464"/></g>
<g id="l4b2"><text class="t" y="2222.35"><tspan x="170">总之，这半年来，我努力做好本工作，但在工</tspan><tspan x="170" dy="18.45">作中也难免存在不足，我会在工作中加以改进</tspan><tspan x="170" dy="18.45">，扬长避短，继续努力，把工作做好，力争更</tspan><tspan x="170" dy="18.45">上一层楼。</tspan></text><path class="u" d="M162 2288.7H464"/></g>
<g id="l6"><text class="t b" x="982" y="2882.4">教师上半年工作总结精选篇6</text><path class="u" d="M970 2898.4H1226"/></g>
<g id="l6a"><text class="t" y="2341.7"><tspan x="654">本学期我担任的是三(3)，三(4)班的英语教学</tspan><tspan x="654" dy="18.45">工作，由于三年级正处于小学中低段，正是承</tspan><tspan x="654" dy="18.45">上启下非常重要的一年的，因此在这一学期我</tspan><tspan x="654" dy="18.45">把注意力重点放在了培养孩子的英语学习爱好</tspan><tspan x="654" dy="18.45">、学习习惯上。一转眼间四个多月的时间就这</tspan><tspan x="654" dy="18.45">样在匆忙中溜走，回想一下本学期的工作以便</tspan><tspan x="654" dy="18.45">查漏补缺。</tspan></text><path class="u" d="M647 2463.4H949"/></g>
<g id="l6b"><text class="t" x="755" y="2645">一、认真备课、面向全体授课</text><path class="u" d="M747 2656H949"/></g>
<g id="l6b1"><text class="t" y="2515.85"><tspan x="425.5">在教学中，认真备课，认真观看远程教育课程</tspan><tspan x="425.5" dy="18.45">辅导和教学参考书，制定好教学计划，根据学</tspan><tspan x="425.5" dy="18.45">生的实际学习情况和向其他教师取得的经验，</tspan><tspan x="425.5" dy="18.45">不断地加以改善修改;在传授学生知识时，不</tspan><tspan x="425.5" dy="18.45">厌其烦，耐心教导学生，利用早晨同学们到校</tspan><tspan x="425.5" dy="18.45">后空闲时间指导学生朗读，还耐心地辅导学生</tspan><tspan x="425.5" dy="18.45">复习遗漏知识;在传授学生知识的同时，并对</tspan><tspan x="425.5" dy="18.45">他们进行思想教育，教育优生帮助后进生。</tspan></text><path class="u" d="M418 2656H742"/></g>
<g id="l6c"><text class="t" x="827" y="2957.5">二、在课堂教学中</text><path class="u" d="M819 2968.5H949"/></g>
<g id="l6c1"><text class="t" y="2708.45"><tspan x="497">第一、在课堂上，认真授课，运用远教资源、</tspan><tspan x="497" dy="18.45">简笔画，情景教学、手势语言等方法来启发、</tspan><tspan x="497" dy="18.45">教育学生。教学生做游戏、唱英语歌等来激发</tspan><tspan x="497" dy="18.45">学生的学习兴趣。鼓励学生大胆质疑，注重师</tspan><tspan x="497" dy="18.45">生互动、生生互动的教学，充分调动学生的学</tspan><tspan x="497" dy="18.45">习积极性。学生有疑难和不懂读的地方，我总</tspan><tspan x="497" dy="18.45">是不厌其烦地讲解、分析、带读，力争让他们</tspan><tspan x="497" dy="18.45">学了就懂，懂了会用。</tspan></text><path class="u" d="M490 2848.6H793"/></g>
<g id="l6c2"><text class="t" y="2901.6"><tspan x="497">第二、在批改作业方面。学生的作业总是按时</tspan><tspan x="497" dy="18.45">及时地批改，并详细地做好批注，对普遍性错</tspan><tspan x="497" dy="18.45">误，在全班重复讲解、分析。针对个别学生的</tspan><tspan x="497" dy="18.45">作业还采取面批方法，一一地分析讲解、帮助</tspan><tspan x="497" dy="18.45">学生解决疑难习题，提高了教学质量。</tspan></text><path class="u" d="M490 2986.4H793"/></g>
<g id="l6c3"><text class="t" y="3038.6"><tspan x="497">第三、在听力方面。为提高学生的听力水平，</tspan><tspan x="497" dy="18.45">常让学生听英语歌曲及英语会话的录音磁带，</tspan><tspan x="497" dy="18.45">还让学生表演对话，背书。</tspan></text><path class="u" d="M490 3086.5H793"/></g>
<g id="l6d"><text class="t" x="841" y="3323.3">三、自身的学习</text><path class="u" d="M834 3334.3H949"/></g>
<g id="l6d1"><text class="t" y="3139.45"><tspan x="512">鉴于自己在小学英语教学方面没有经验，我抓</tspan><tspan x="512" dy="18.45">紧一切机会向其他老师学习，用心收集有助于</tspan><tspan x="512" dy="18.45">小学英语课堂教学的各种游戏、活动。同时多</tspan><tspan x="512" dy="18.45">听录音磁带，让自己的语音和语调标准。</tspan></text><path class="u" d="M505 3205.8H808"/></g>
<g id="l6d2"><text class="t" y="3259.65"><tspan x="512">以上是我这学期在小学英语教学方面取得的成</tspan><tspan x="512" dy="18.45">绩和经验，但也存在较多的不足，如课堂操作</tspan><tspan x="512" dy="18.45">欠灵活，尤其是后进生工作，由于客观原因，</tspan><tspan x="512" dy="18.45">做的不够，以致于成绩不理想。</tspan></text><path class="u" d="M505 3326H808"/></g>
<g id="l6d3"><text class="t" y="3376.9"><tspan x="512">总之，由于本人缺少小学英语教学经验和对学</tspan><tspan x="512" dy="18.45">生的实际学习情况不了解，学生本学期的成绩</tspan><tspan x="512" dy="18.45">不理想，在今后的教学工作中，我会努力填补</tspan><tspan x="512" dy="18.45">自己在教学工作中不足，也会不耻下问，向其</tspan><tspan x="512" dy="18.45">他老师学习，争取迈上一个新台阶。</tspan></text><path class="u" d="M505 3461.7H808"/></g>
<g id="l8"><text class="t b" x="982" y="3816.3">教师上半年工作总结精选篇8</text><path class="u" d="M970 3832.3H1226"/></g>
<g id="l8i"><text class="t" y="3729.05"><tspan x="654">20__年弹指间已过半年。总结我这半年来的</tspan><tspan x="654" dy="18.45">工作，只能说是忙碌而充实。半年来在领导的</tspan><tspan x="654" dy="18.45">指导、关心下，在同事们的帮助和亲切配合下</tspan><tspan x="654" dy="18.45">，我的工作取得了一定进步，为了总结经验，</tspan><tspan x="654" dy="18.45">吸取教训，更好地前行，现将我这半年的工作</tspan><tspan x="654" dy="18.45">总结如下：</tspan></text><path class="u" d="M647 3832.3H949"/></g>
<g id="l8a"><text class="t" x="427" y="3625.7">一、端正态度，热爱本职工作</text><path class="u" d="M420 3637H623"/></g>
<g id="l8a1"><text class="t" y="3515.3"><tspan x="98">态度决定一切，不能用正确的态度对待工作，</tspan><tspan x="98" dy="18.45">就不能在工作中尽职尽责。既然改变不了环境</tspan><tspan x="98" dy="18.45">，那就改变自己，尽到自己本份，尽力完成应</tspan><tspan x="98" dy="18.45">该做的事情。只有热爱自己的本职工作，才能</tspan><tspan x="98" dy="18.45">把工作做好，最重要的是保持一种积极的态度</tspan><tspan x="98" dy="18.45">，本着对工作积极、认真、负责的态度，踏实</tspan><tspan x="98" dy="18.45">的干好本职工作。</tspan></text><path class="u" d="M90 3637H415"/></g>
<g id="l8b"><text class="t" x="397" y="3782.3">二、培养团队意识，端正合作态度</text><path class="u" d="M390 3793.3H623"/></g>
<g id="l8b1"><text class="t" y="3690.05"><tspan x="69">在工作中，每个人都有自己的长处和优点。培</tspan><tspan x="69" dy="18.45">养自己的团队意识和合作态度，互相协作，互</tspan><tspan x="69" dy="18.45">补不足。工作才能更顺利的进行。仅靠个人的</tspan><tspan x="69" dy="18.45">力量是不够得，我们所处的环境就需要大家心</tspan><tspan x="69" dy="18.45">往一处想，劲往一处使，不计较个人得失，这</tspan><tspan x="69" dy="18.45">样才能把工作圆满完成。</tspan></text><path class="u" d="M62 3793.3H363"/></g>
<g id="l8c"><text class="t" x="527" y="4020.3">三、存在不足</text><path class="u" d="M519 4031.3H623"/></g>
<g id="l8c1"><text class="t" y="3846.4"><tspan x="198">工作有成绩，也存在不足。主要是加强业务知</tspan><tspan x="198" dy="18.45">识学习和克服自身的缺点，今后要认真总结经</tspan><tspan x="198" dy="18.45">验，克服不足，把工作干好。</tspan></text><path class="u" d="M190 3894.3H494"/></g>
<g id="l8c2"><text class="t" y="3946.35"><tspan x="198">（一）、强化自制力。工作中无论你做什么事</tspan><tspan x="198" dy="18.45">，都要对自己的工作负责，要加强自我克制和</tspan><tspan x="198" dy="18.45">容忍，加强团队意识，理智的处理问题，不给</tspan><tspan x="198" dy="18.45">大家和谈对造成麻烦，培养大局意识</tspan></text><path class="u" d="M190 4012.7H494"/></g>
<g id="l8c3"><text class="t" y="4064.45"><tspan x="198">（二）、加强沟通。同事之间要坦诚、宽容、</tspan><tspan x="198" dy="18.45">沟通和信任。我能做到坦诚、宽容和信任，就</tspan><tspan x="198" dy="18.45">欠缺沟通，有效沟通可以消除误会，增进了解</tspan><tspan x="198" dy="18.45">融洽关系，保证工作质量，提高工作效率，工</tspan><tspan x="198" dy="18.45">作中有些问题往往就是因为没有及时沟通引起</tspan><tspan x="198" dy="18.45">的，以后工作中要与领导与同事加强沟通。</tspan></text><path class="u" d="M190 4167.7H494"/></g>
</g>
</svg>
